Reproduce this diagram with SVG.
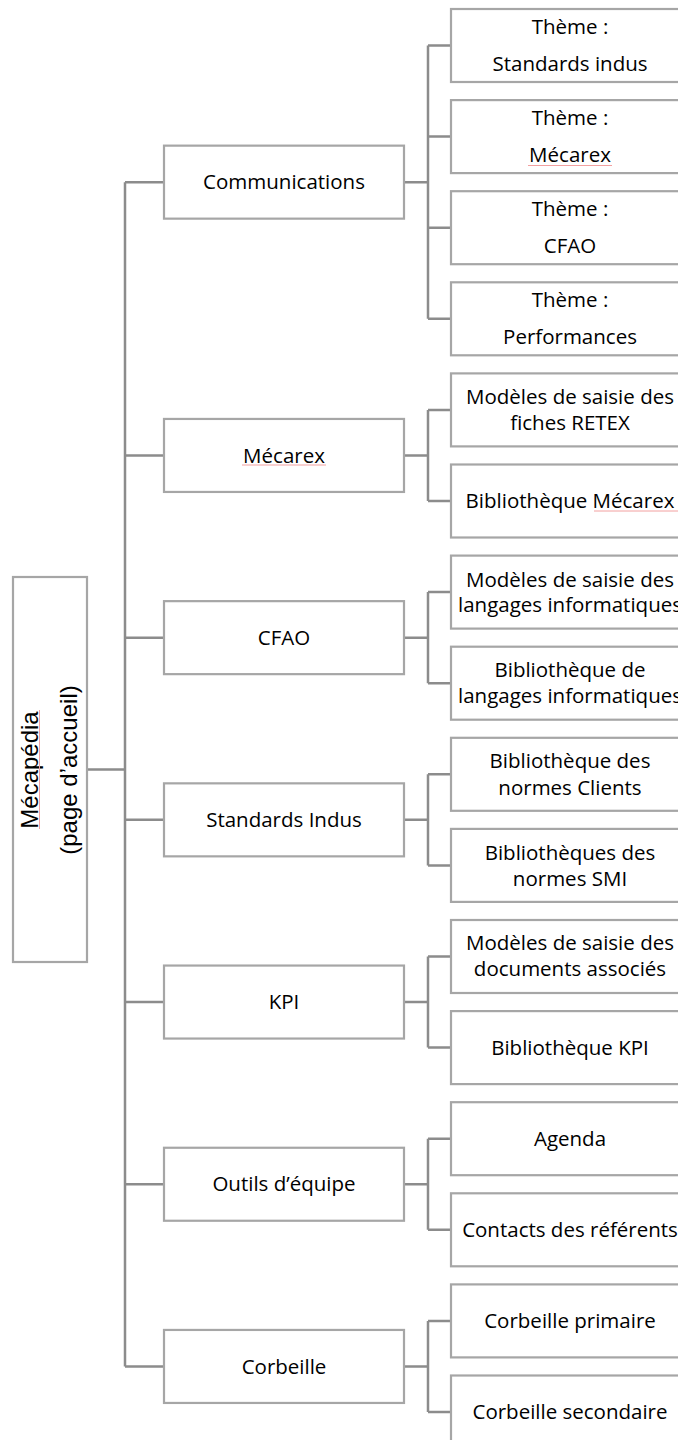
<svg xmlns="http://www.w3.org/2000/svg" width="678" height="1440" viewBox="0 0 678 1440">
<style>
.box{fill:#ffffff;stroke:#a6a6a6;stroke-width:2.2}
.conn{fill:none;stroke:#8c8c8c;stroke-width:2.5}
.t{font-family:'Open Sans','Liberation Sans',sans-serif;font-size:20.5px;fill:#000000;text-anchor:middle}
.root{font-family:'Liberation Sans',Arial,sans-serif;font-size:24px;fill:#000000;text-anchor:middle}
.sp{fill:none;stroke:#f2a0a0;stroke-width:1}
</style>
<rect width="678" height="1440" fill="#ffffff"/>
<g id="connectors">
<path class="conn" d="M87,769.5H125 M125,182.15V1366.45 M125,182.15H164 M125,455.45H164 M125,637.65H164 M125,819.85H164 M125,1002.05H164 M125,1184.25H164 M125,1366.45H164"/>
<path class="conn" d="M404,182.15H428 M428,45.5V318.8 M428,45.5H451 M428,136.6H451 M428,227.7H451 M428,318.8H451"/>
<path class="conn" d="M404,455.45H428 M428,409.9V501 M428,409.9H451 M428,501H451"/>
<path class="conn" d="M404,637.65H428 M428,592.1V683.2 M428,592.1H451 M428,683.2H451"/>
<path class="conn" d="M404,819.85H428 M428,774.3V865.4 M428,774.3H451 M428,865.4H451"/>
<path class="conn" d="M404,1002.05H428 M428,956.5V1047.6 M428,956.5H451 M428,1047.6H451"/>
<path class="conn" d="M404,1184.25H428 M428,1138.7V1229.8 M428,1138.7H451 M428,1229.8H451"/>
<path class="conn" d="M404,1366.45H428 M428,1320.9V1412 M428,1320.9H451 M428,1412H451"/>
</g>
<g id="root">
<rect class="box" x="13" y="577" width="74" height="385"/>
<g transform="translate(0,770) rotate(-90)">
<text class="root" x="0" y="38.3">Mécapédia</text>
<text class="root" x="0" y="76.7">(page d’accueil)</text>
</g>
<line class="sp" x1="39.5" y1="710" x2="39.5" y2="829"/>
</g>
<g id="communications">
<rect class="box" x="164" y="145.65" width="240" height="73"/>
<text class="t" x="284" y="189.2">Communications</text>
</g>
<g id="mecarex">
<rect class="box" x="164" y="418.95" width="240" height="73"/>
<text class="t" x="284" y="462.5">Mécarex</text>
<line class="sp" x1="242" y1="465" x2="326" y2="465"/>
</g>
<g id="cfao">
<rect class="box" x="164" y="601.15" width="240" height="73"/>
<text class="t" x="284" y="644.7">CFAO</text>
</g>
<g id="standards-indus">
<rect class="box" x="164" y="783.35" width="240" height="73"/>
<text class="t" x="284" y="826.9">Standards Indus</text>
</g>
<g id="kpi">
<rect class="box" x="164" y="965.55" width="240" height="73"/>
<text class="t" x="284" y="1009.1">KPI</text>
</g>
<g id="outils-equipe">
<rect class="box" x="164" y="1147.75" width="240" height="73"/>
<text class="t" x="284" y="1191.3">Outils d’équipe</text>
</g>
<g id="corbeille">
<rect class="box" x="164" y="1329.95" width="240" height="73"/>
<text class="t" x="284" y="1373.5">Corbeille</text>
</g>
<g id="theme-standards">
<rect class="box" x="451" y="9" width="240" height="73"/>
<text class="t" x="570" y="34">Thème :</text>
<text class="t" x="570" y="70.5">Standards indus</text>
</g>
<g id="theme-mecarex">
<rect class="box" x="451" y="100.1" width="240" height="73"/>
<text class="t" x="570" y="125.1">Thème :</text>
<text class="t" x="570" y="161.6">Mécarex</text>
<line class="sp" x1="528" y1="165.5" x2="612" y2="165.5"/>
</g>
<g id="theme-cfao">
<rect class="box" x="451" y="191.2" width="240" height="73"/>
<text class="t" x="570" y="216.2">Thème :</text>
<text class="t" x="570" y="252.7">CFAO</text>
</g>
<g id="theme-performances">
<rect class="box" x="451" y="282.3" width="240" height="73"/>
<text class="t" x="570" y="307.3">Thème :</text>
<text class="t" x="570" y="343.8">Performances</text>
</g>
<g id="modeles-retex">
<rect class="box" x="451" y="373.4" width="240" height="73"/>
<text class="t" x="570" y="404">Modèles de saisie des</text>
<text class="t" x="570" y="430">fiches RETEX</text>
</g>
<g id="bibliotheque-mecarex">
<rect class="box" x="451" y="464.5" width="240" height="73"/>
<text class="t" x="570" y="508">Bibliothèque Mécarex</text>
<line class="sp" x1="594" y1="511" x2="678" y2="511"/>
</g>
<g id="modeles-langages">
<rect class="box" x="451" y="555.6" width="240" height="73"/>
<text class="t" x="570" y="586.5">Modèles de saisie des</text>
<text class="t" x="570" y="612">langages informatiques</text>
</g>
<g id="bibliotheque-langages">
<rect class="box" x="451" y="646.7" width="240" height="73"/>
<text class="t" x="570" y="677">Bibliothèque de</text>
<text class="t" x="570" y="703">langages informatiques</text>
</g>
<g id="normes-clients">
<rect class="box" x="451" y="737.8" width="240" height="73"/>
<text class="t" x="570" y="768">Bibliothèque des</text>
<text class="t" x="570" y="795">normes Clients</text>
</g>
<g id="normes-smi">
<rect class="box" x="451" y="828.9" width="240" height="73"/>
<text class="t" x="570" y="860">Bibliothèques des</text>
<text class="t" x="570" y="886">normes SMI</text>
</g>
<g id="modeles-documents">
<rect class="box" x="451" y="920" width="240" height="73"/>
<text class="t" x="570" y="950">Modèles de saisie des</text>
<text class="t" x="570" y="976">documents associés</text>
</g>
<g id="bibliotheque-kpi">
<rect class="box" x="451" y="1011.1" width="240" height="73"/>
<text class="t" x="570" y="1054.5">Bibliothèque KPI</text>
</g>
<g id="agenda">
<rect class="box" x="451" y="1102.2" width="240" height="73"/>
<text class="t" x="570" y="1145.5">Agenda</text>
</g>
<g id="contacts">
<rect class="box" x="451" y="1193.3" width="240" height="73"/>
<text class="t" x="570" y="1236.5">Contacts des référents</text>
</g>
<g id="corbeille-primaire">
<rect class="box" x="451" y="1284.4" width="240" height="73"/>
<text class="t" x="570" y="1327.5">Corbeille primaire</text>
</g>
<g id="corbeille-secondaire">
<rect class="box" x="451" y="1375.5" width="240" height="73"/>
<text class="t" x="570" y="1419">Corbeille secondaire</text>
</g>
</svg>
